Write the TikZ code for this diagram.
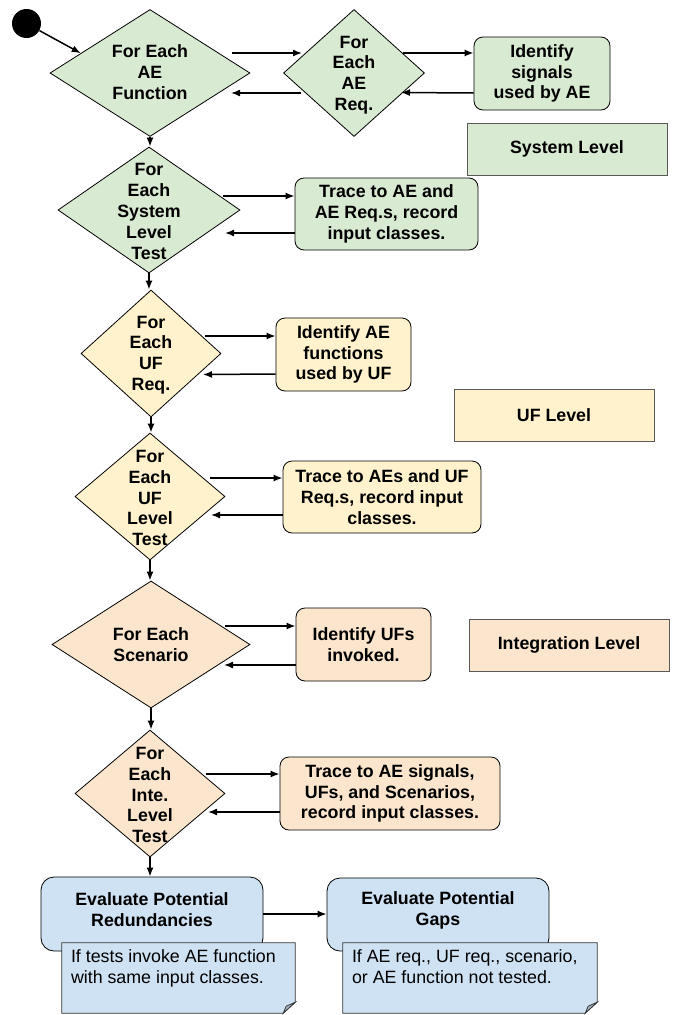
\documentclass[tikz,border=0pt]{standalone}
\usepackage{fontspec}
\setmainfont{Liberation Sans}
\usetikzlibrary{shapes.geometric,arrows.meta,calc}
\definecolor{cgreen}{HTML}{D9EAD3}
\definecolor{cyellow}{HTML}{FFF2CC}
\definecolor{corange}{HTML}{FCE5CD}
\definecolor{cblue}{HTML}{CFE2F3}
\definecolor{clvl}{HTML}{595959}
\definecolor{cfold}{HTML}{A9B8C6}
\tikzset{
  dia/.style={diamond, draw=black, line width=0.8pt, inner sep=0pt},
  dtxt/.style={align=center, inner sep=0pt, font=\fontsize{17.8}{20.8}\selectfont\bfseries},
  rbox/.style={rectangle, rounded corners=9pt, draw=black, line width=0.8pt, inner sep=0pt, align=center, font=\fontsize{17.8}{20.8}\selectfont\bfseries},
  lvl/.style={rectangle, draw=clvl, line width=1pt, inner sep=0pt, font=\fontsize{17.8}{20.8}\selectfont\bfseries},
  evbox/.style={rectangle, rounded corners=13pt, draw=black, line width=0.8pt, fill=cblue, inner sep=0pt},
  notebox/.style={rectangle, inner sep=0pt},
  noteline/.style={draw=black!80, line width=0.8pt, fill=cblue},
  notetxt/.style={align=left, inner sep=0pt, anchor=north west, font=\fontsize{17.8}{20.8}\selectfont},
  arr/.style={draw=black, line width=1.5pt, -{Latex[length=9pt,width=7pt]}},
}
\begin{document}
\begin{tikzpicture}[x=1pt,y=-1pt]
\useasboundingbox (0,0) rectangle (673,1015);

% start
\node[circle, fill=black, minimum size=29pt, inner sep=0pt] (start) at (26.5,23.5) {};

% system level
\node[dia, fill=cgreen, minimum width=200pt, minimum height=127pt] (d1) at (150,73) {};
\node[dtxt] (d1t) at (150,72) {For Each\\AE\\Function};
\node[dia, fill=cgreen, minimum width=141pt, minimum height=127pt] (d2) at (354,73) {};
\node[dtxt] (d2t) at (354,75) {For\\Each\\AE\\Req.};
\node[rbox, fill=cgreen, minimum width=136pt, minimum height=73pt] (b1) at (542,73.5) {Identify\\signals\\used by AE};
\node[lvl, fill=cgreen, minimum width=200pt, minimum height=52pt] (sys) at (567,149) {System Level};

\node[dia, fill=cgreen, minimum width=182pt, minimum height=126pt] (d3) at (149,210) {};
\node[dtxt] (d3t) at (149,211.5) {For\\Each\\System\\Level\\Test};
\node[rbox, fill=cgreen, minimum width=183pt, minimum height=72pt] (b2) at (386.5,214) {Trace to AE and\\AE Req.s, record\\input classes.};

% UF level
\node[dia, fill=cyellow, minimum width=140pt, minimum height=127pt] (d4) at (151,353.5) {};
\node[dtxt] (d4t) at (151,355) {For\\Each\\UF\\Req.};
\node[rbox, fill=cyellow, minimum width=135pt, minimum height=73pt] (b3) at (343.5,354.5) {Identify AE\\functions\\used by UF};
\node[lvl, fill=cyellow, minimum width=200pt, minimum height=52pt] (uf) at (554,415) {UF Level};

\node[dia, fill=cyellow, minimum width=150pt, minimum height=127pt] (d5) at (150,496.5) {};
\node[dtxt] (d5t) at (150,498) {For\\Each\\UF\\Level\\Test};
\node[rbox, fill=cyellow, minimum width=198pt, minimum height=72pt] (b4) at (382,497) {Trace to AEs and UF\\Req.s, record input\\classes.};

% integration level
\node[dia, fill=corange, minimum width=198pt, minimum height=127pt] (d6) at (151,644.5) {};
\node[dtxt] (d6t) at (151,645) {For Each\\Scenario};
\node[rbox, fill=corange, minimum width=135pt, minimum height=73pt] (b5) at (363.5,644.5) {Identify UFs\\invoked.};
\node[lvl, fill=corange, minimum width=200pt, minimum height=52pt] (integ) at (569,645) {Integration Level};

\node[dia, fill=corange, minimum width=150pt, minimum height=127pt] (d7) at (150,793.5) {};
\node[dtxt] (d7t) at (150,795) {For\\Each\\Inte.\\Level\\Test};
\node[rbox, fill=corange, minimum width=220pt, minimum height=73pt] (b6) at (390,793.5) {Trace to AE signals,\\UFs, and Scenarios,\\record input classes.};

% evaluation
\node[evbox, minimum width=222pt, minimum height=74pt] (e1) at (152,914) {};
\node[dtxt] (e1t) at (152,910) {Evaluate Potential\\Redundancies};
\node[evbox, minimum width=222pt, minimum height=73pt] (e2) at (438,914.5) {};
\node[dtxt] (e2t) at (438,910) {Evaluate Potential\\Gaps};

% notes
\node[notebox, minimum width=233pt, minimum height=70pt] (n1) at (178.5,978) {};
\draw[noteline] (n1.north west) -- (n1.north east) -- ($(n1.south east)+(0,-11)$) -- ($(n1.south east)+(-12,0)$) -- (n1.south west) -- cycle;
\draw[draw=black!80, line width=0.8pt, fill=cfold] ($(n1.south east)+(0,-11)$) -- ($(n1.south east)+(-12,0)$) -- ($(n1.south east)+(-9,-7)$) -- cycle;
\node[notetxt] (n1t) at ($(n1.north west)+(9,7)$) {If tests invoke AE function\\with same input classes.};

\node[notebox, minimum width=254pt, minimum height=70pt] (n2) at (470,978) {};
\draw[noteline] (n2.north west) -- (n2.north east) -- ($(n2.south east)+(0,-11)$) -- ($(n2.south east)+(-12,0)$) -- (n2.south west) -- cycle;
\draw[draw=black!80, line width=0.8pt, fill=cfold] ($(n2.south east)+(0,-11)$) -- ($(n2.south east)+(-12,0)$) -- ($(n2.south east)+(-9,-7)$) -- cycle;
\node[notetxt] (n2t) at ($(n2.north west)+(9,7)$) {If AE req., UF req., scenario,\\or AE function not tested.};

% connectors
\draw[arr] (start) -- ($(d1.west)!0.31!(d1.north)$);
\draw[arr] ($(d1)+(82,-20)$) -- ($(d2)+(-52,-20)$);
\draw[arr] ($(d2)+(-53,20)$) -- ($(d1)+(81,20)$);
\draw[arr] ($(d2)+(49,-20)$) -- ($(b1.west)+(0,-20.5)$);
\draw[arr] ($(b1.west)+(0,19.5)$) -- ($(d2)+(47,19.5)$);

\draw[arr] (d1.south) -- (d1.south |- d3.north);
\draw[arr] ($(d3)+(74,-14)$) -- ($(b2.west)+(0,-18)$);
\draw[arr] ($(b2.west)+(0,19)$) -- ($(d3)+(76,23)$);

\draw[arr] (d3.south) -- (d3.south |- d4.north);
\draw[arr] ($(d4)+(54,-17.5)$) -- ($(b3.west)+(0,-18.5)$);
\draw[arr] ($(b3.west)+(0,19.5)$) -- ($(d4)+(52,21)$);

\draw[arr] (d4.south) -- (d4.south |- d5.north);
\draw[arr] ($(d5)+(60,-18.5)$) -- ($(b4.west)+(0,-19)$);
\draw[arr] ($(b4.west)+(0,18)$) -- ($(d5)+(61,18.5)$);

\draw[arr] (d5.south) -- (d5.south |- d6.north);
\draw[arr] ($(d6)+(74,-18.5)$) -- ($(b5.west)+(0,-18.5)$);
\draw[arr] ($(b5.west)+(0,20.5)$) -- ($(d6)+(73,20.5)$);

\draw[arr] (d6.south) -- (d6.south |- d7.north);
\draw[arr] ($(d7)+(56,-19.5)$) -- ($(b6.west)+(0,-19.5)$);
\draw[arr] ($(b6.west)+(0,18.5)$) -- ($(d7)+(58,18.5)$);

\draw[arr] (d7.south) -- (d7.south |- e1.north);
\draw[arr] (e1.east) -- (e2.west |- e1.east);
\end{tikzpicture}
\end{document}
